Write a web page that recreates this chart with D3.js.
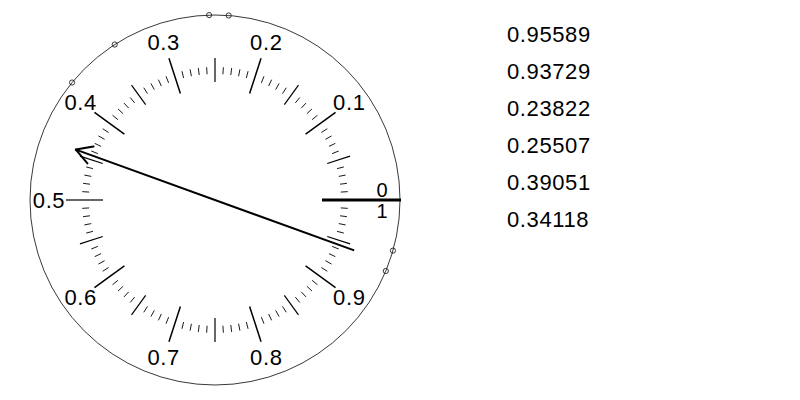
<!DOCTYPE html>
<html>
<head>
<meta charset="utf-8">
<script src="https://cdn.jsdelivr.net/npm/d3@7"></script>
<style>
  html, body { margin: 0; padding: 0; background: #fff; }
  svg { display: block; }
  text { font-family: "Liberation Sans", Arial, Helvetica, sans-serif; fill: #000; }
</style>
</head>
<body>
<script>
// ---- data ----
const values = [0.95589, 0.93729, 0.23822, 0.25507, 0.39051, 0.34118];
const majorTicks = [0, 0.1, 0.2, 0.3, 0.4, 0.5, 0.6, 0.7, 0.8, 0.9];
const majorLabels = ["0", "0.1", "0.2", "0.3", "0.4", "0.5", "0.6", "0.7", "0.8", "0.9"];
const arrowValue = 0.4447;   // direction of the arrow head
const arrowLength = 0.8;     // relative to circle radius

// ---- layout ----
const W = 800, H = 400;
const cx = 215, cy = 200, R = 185;

const svg = d3.select("body").append("svg").attr("width", W).attr("height", H);

const angle = d3.scaleLinear().domain([0, 1]).range([0, 2 * Math.PI]);
const radius = d3.scaleLinear().domain([0, 1]).range([0, R]);
const px = (v, r) => cx + r * Math.cos(angle(v));
const py = (v, r) => cy - r * Math.sin(angle(v));

// outer circle
svg.append("circle").attr("cx", cx).attr("cy", cy).attr("r", radius(1))
  .attr("fill", "none").attr("stroke", "#222").attr("stroke-width", 0.9);

// minor / medium ticks
const allTicks = d3.range(0, 100).map(i => i / 100);
const isMajor = t => Math.abs(t * 10 - Math.round(t * 10)) < 1e-9;
const isMedium = t => !isMajor(t) && Math.abs(t * 20 - Math.round(t * 20)) < 1e-9;

svg.append("g").selectAll("line")
  .data(allTicks.filter(t => !isMajor(t)))
  .join("line")
  .attr("x1", d => px(d, isMedium(d) ? 118 : 126))
  .attr("y1", d => py(d, isMedium(d) ? 118 : 126))
  .attr("x2", d => px(d, isMedium(d) ? 142 : 133))
  .attr("y2", d => py(d, isMedium(d) ? 142 : 133))
  .attr("stroke", "#000")
  .attr("stroke-width", d => isMedium(d) ? 1.2 : 0.9);

// major ticks
svg.append("g").selectAll("line")
  .data(majorTicks.filter(t => t !== 0))
  .join("line")
  .attr("x1", d => px(d, 112))
  .attr("y1", d => py(d, 112))
  .attr("x2", d => px(d, 149))
  .attr("y2", d => py(d, 149))
  .attr("stroke", d => d === 0.5 ? "#666" : "#000")
  .attr("stroke-width", d => d === 0.5 ? 2 : 1.5);

// zero reference line
svg.append("line")
  .attr("x1", px(0, 107)).attr("y1", py(0, 107))
  .attr("x2", px(0, 186)).attr("y2", py(0, 186))
  .attr("stroke", "#000").attr("stroke-width", 3);

// major labels
svg.append("g").selectAll("text")
  .data(majorTicks.map((t, i) => ({ t, label: majorLabels[i] })).filter(d => d.t !== 0))
  .join("text")
  .attr("x", d => px(d.t, 166))
  .attr("y", d => py(d.t, 166))
  .attr("text-anchor", "middle")
  .attr("dominant-baseline", "central")
  .attr("font-size", 22)
  .attr("letter-spacing", 0.6)
  .text(d => d.label);

// "0" above and "1" below at the zero position
svg.append("text").attr("x", px(0, 167)).attr("y", py(0, 167) - 10)
  .attr("text-anchor", "middle").attr("dominant-baseline", "central")
  .attr("font-size", 20).text("0");
svg.append("text").attr("x", px(1, 167)).attr("y", py(1, 167) + 11)
  .attr("text-anchor", "middle").attr("dominant-baseline", "central")
  .attr("font-size", 20).text("1");

// arrow through the centre
const rA = radius(arrowLength);
const tipX = px(arrowValue, rA), tipY = py(arrowValue, rA);
const tailX = px(arrowValue + 0.5, rA), tailY = py(arrowValue + 0.5, rA);
svg.append("line")
  .attr("x1", tailX).attr("y1", tailY).attr("x2", tipX).attr("y2", tipY)
  .attr("stroke", "#000").attr("stroke-width", 2);
const back = angle(arrowValue) + Math.PI;
const headLen = 18, headAng = Math.PI / 6;
[-headAng, headAng].forEach(a => {
  svg.append("line")
    .attr("x1", tipX).attr("y1", tipY)
    .attr("x2", tipX + headLen * Math.cos(back + a))
    .attr("y2", tipY - headLen * Math.sin(back + a))
    .attr("stroke", "#000").attr("stroke-width", 2).attr("stroke-linecap", "round");
});

// data points on the circle
svg.append("g").selectAll("circle")
  .data(values)
  .join("circle")
  .attr("cx", d => px(d, radius(1)))
  .attr("cy", d => py(d, radius(1)))
  .attr("r", 2.6)
  .attr("fill", "none").attr("stroke", "#222").attr("stroke-width", 0.9);

// value list on the right
svg.append("g").selectAll("text")
  .data(values)
  .join("text")
  .attr("x", 507)
  .attr("y", (d, i) => 41.5 + i * 37)
  .attr("font-size", 22)
  .attr("letter-spacing", 0.6)
  .text(d => d3.format(".5f")(d));
</script>
</body>
</html>
